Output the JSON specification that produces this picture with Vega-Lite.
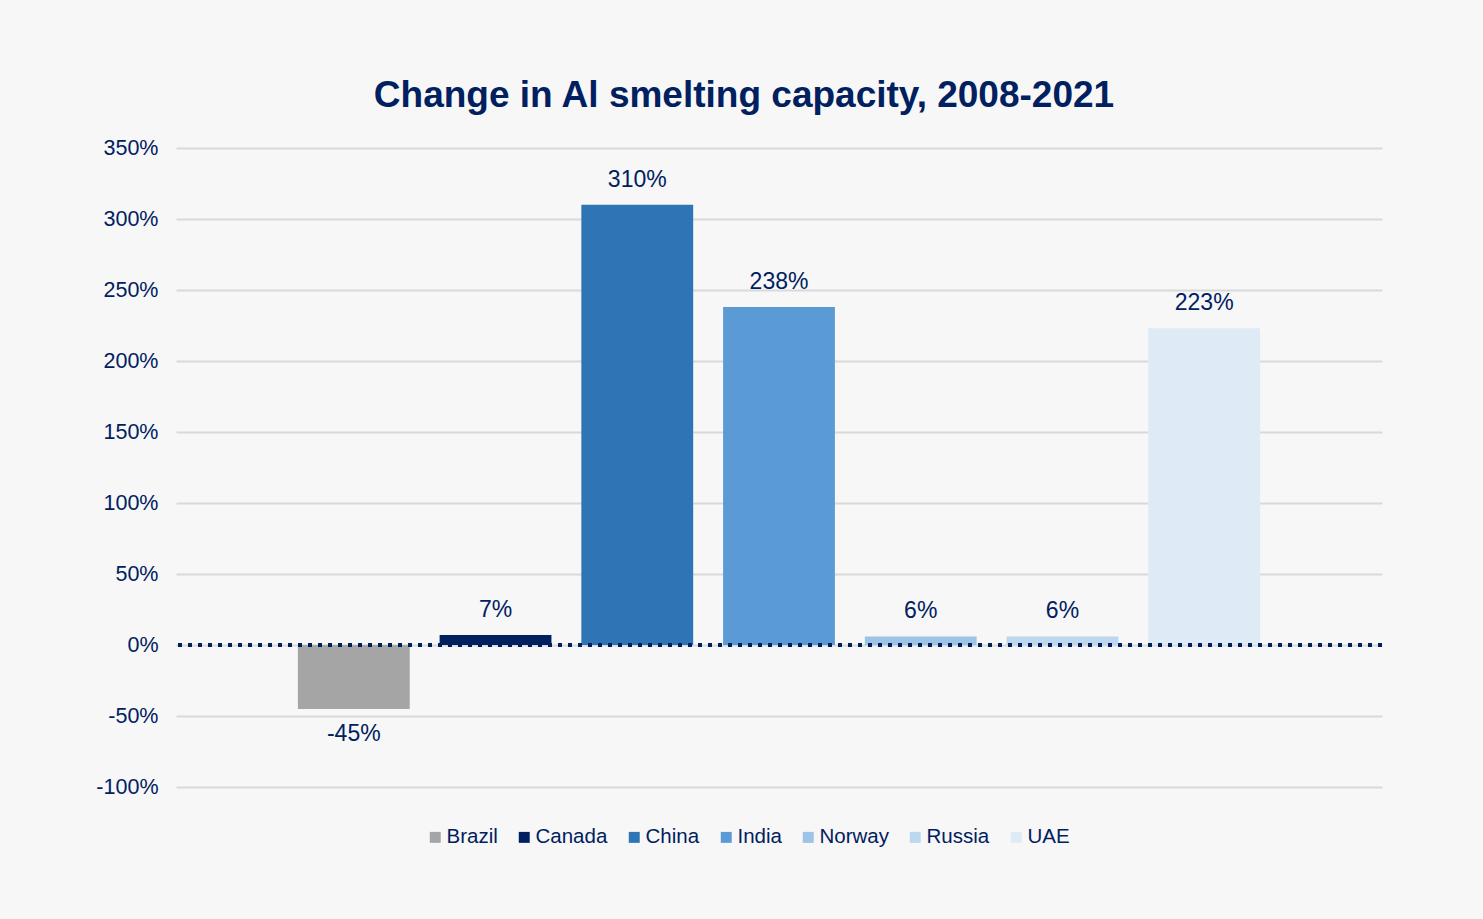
{
  "$schema": "https://vega.github.io/schema/vega-lite/v6.json",
  "autosize": "none",
  "width": 1206,
  "height": 639,
  "padding": {"left": 176, "top": 148, "right": 101, "bottom": 132},
  "background": "#f7f7f7",
  "title": {
    "text": "Change in Al smelting capacity, 2008-2021",
    "font": "Liberation Sans",
    "fontSize": 37,
    "fontWeight": "bold",
    "color": "#002060",
    "anchor": "middle",
    "frame": "group",
    "dx": -35,
    "offset": 22
  },
  "config": {
    "view": {"stroke": null},
    "font": "Liberation Sans"
  },
  "data": {
    "values": [
      {"country": "Brazil", "change": -45},
      {"country": "Canada", "change": 7},
      {"country": "China", "change": 310},
      {"country": "India", "change": 238},
      {"country": "Norway", "change": 6},
      {"country": "Russia", "change": 6},
      {"country": "UAE", "change": 223}
    ]
  },
  "encoding": {
    "x": {
      "field": "country",
      "type": "nominal",
      "sort": null,
      "axis": null,
      "scale": {"paddingInner": 0.211, "paddingOuter": 0.86}
    }
  },
  "layer": [
    {
      "mark": {"type": "bar"},
      "encoding": {
        "y": {
          "field": "change",
          "type": "quantitative",
          "scale": {"domain": [-100, 350], "nice": false},
          "axis": {
            "values": [-100, -50, 0, 50, 100, 150, 200, 250, 300, 350],
            "labelExpr": "datum.value + '%'",
            "title": null,
            "domain": false,
            "ticks": false,
            "labelPadding": 18,
            "labelFontSize": 21.5,
            "labelColor": "#002060",
            "labelFont": "Liberation Sans",
            "gridColor": "#d9d9d9",
            "gridWidth": 2
          }
        },
        "color": {
          "field": "country",
          "type": "nominal",
          "sort": null,
          "scale": {
            "domain": ["Brazil", "Canada", "China", "India", "Norway", "Russia", "UAE"],
            "range": ["#a5a5a5", "#002060", "#2e75b6", "#5b9bd5", "#9dc3e6", "#bdd7ee", "#deebf7"]
          },
          "legend": {
            "orient": "none",
            "legendX": 249,
            "legendY": 679,
            "direction": "horizontal",
            "title": null,
            "symbolType": "square",
            "symbolSize": 120,
            "symbolStrokeWidth": 0,
            "labelFontSize": 20.5,
            "labelColor": "#002060",
            "labelFont": "Liberation Sans",
            "labelOffset": 1,
            "columnPadding": 16
          }
        }
      }
    },
    {
      "transform": [{"filter": "datum.change >= 0"}],
      "mark": {"type": "text", "baseline": "bottom", "dy": -13, "fontSize": 23, "color": "#002060", "font": "Liberation Sans", "text": {"expr": "datum.change + '%'"}},
      "encoding": {
        "y": {"field": "change", "type": "quantitative"}
      }
    },
    {
      "transform": [{"filter": "datum.change < 0"}],
      "mark": {"type": "text", "baseline": "top", "dy": 14, "fontSize": 23, "color": "#002060", "font": "Liberation Sans", "text": {"expr": "datum.change + '%'"}},
      "encoding": {
        "y": {"field": "change", "type": "quantitative"}
      }
    },
    {
      "mark": {"type": "rule", "color": "#002060", "strokeWidth": 4, "strokeDash": [4, 6]},
      "encoding": {
        "y": {"datum": 0, "type": "quantitative"},
        "x": null
      }
    }
  ]
}
